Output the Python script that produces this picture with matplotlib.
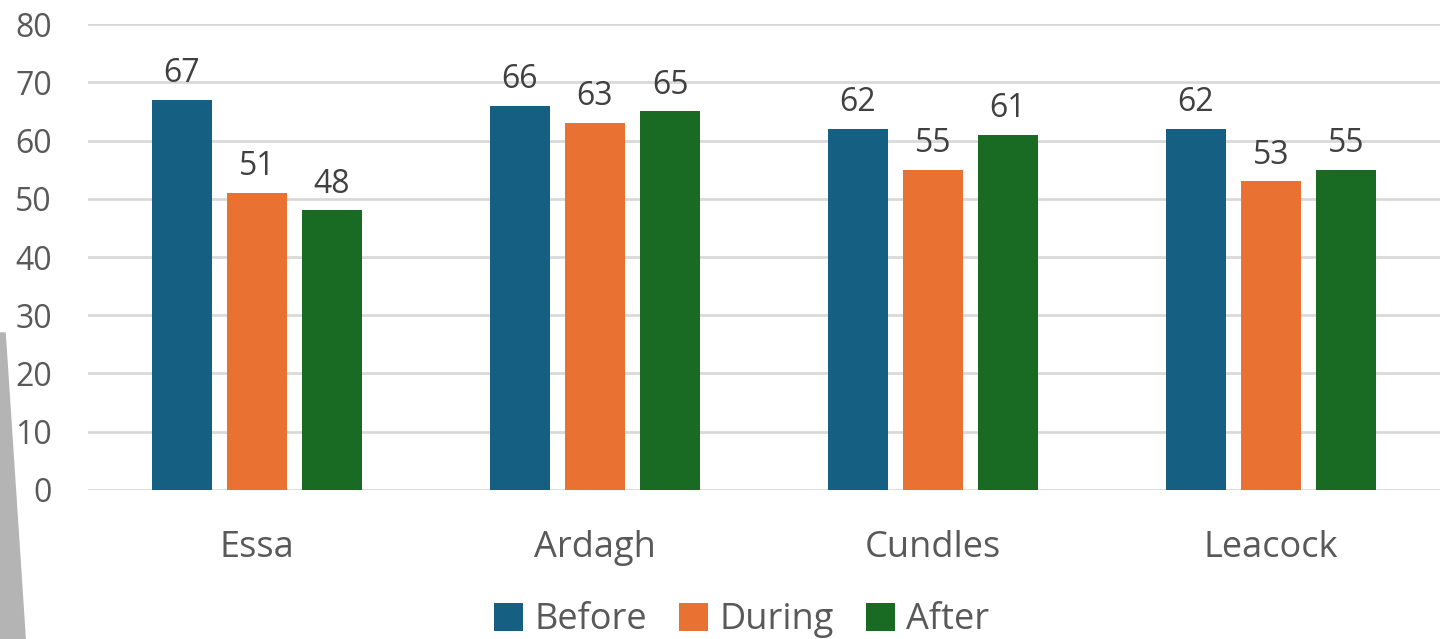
import numpy as np
import matplotlib.pyplot as plt
from matplotlib.patches import Polygon

categories = ["Essa", "Ardagh", "Cundles", "Leacock"]
series = ["Before", "During", "After"]
before = [67, 66, 62, 62]
during = [51, 63, 55, 53]
after = [48, 65, 61, 55]
colors = ["#156082", "#E97132", "#196B24"]

plt.rcParams["font.family"] = ["Open Sans", "DejaVu Sans"]

fig = plt.figure(figsize=(14.4, 6.39), dpi=100)
ax = fig.add_axes([0.0611, 0.2332, 0.9389, 0.7292])

# grey shadow at the left edge of the screenshot
fig.patches.append(Polygon([[0, 0.48], [0.004, 0.48], [0.018, 0.0], [0, 0.0]],
                           closed=True, transform=fig.transFigure,
                           facecolor="#b4b4b4", edgecolor="none", zorder=0))

x = np.arange(len(categories))
width = 0.178
step = 0.222
for i, (name, vals) in enumerate(zip(series, [before, during, after])):
    bars = ax.bar(x + (i - 1) * step, vals, width, color=colors[i], label=name, zorder=3)
    ax.bar_label(bars, padding=7, fontsize=23, color="#404040")

ax.set_xlim(-0.5, 3.5)
ax.set_ylim(0, 80)
ax.set_yticks(range(0, 81, 10))
ax.set_xticks(x)
ax.set_xticklabels(categories)
ax.grid(axis="y", color="#D9D9D9", linewidth=2, zorder=0)
for s in ax.spines.values():
    s.set_visible(False)
ax.tick_params(axis="y", length=0, labelsize=23, labelcolor="#595959", pad=26)
ax.tick_params(axis="x", length=0, labelsize=26, labelcolor="#595959", pad=29)

fig.legend(loc="lower center", bbox_to_anchor=(0.515, -0.05), ncol=3, frameon=False,
           fontsize=26, labelcolor="#595959", handlelength=0.8, handleheight=0.8,
           handletextpad=0.3, columnspacing=0.9)

fig.savefig("out.png", dpi=100)
